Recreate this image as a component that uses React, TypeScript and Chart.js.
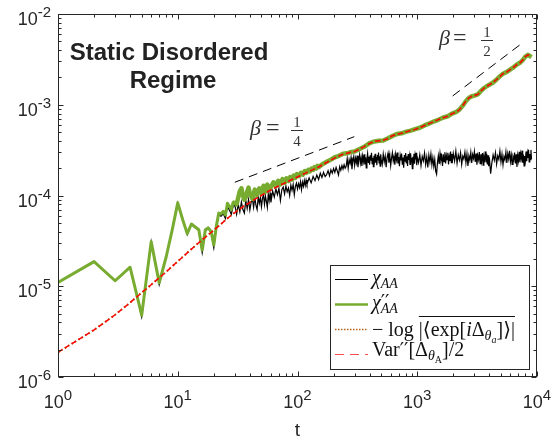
import React, { useEffect, useRef } from "react";
import { Chart, registerables } from "chart.js";

Chart.register(...registerables);

// ---------------- data ----------------
// chi''_AA and chi_AA at early integer times
const tEarly = [1, 2, 3, 4, 5, 6, 7, 8, 9, 10, 11, 12, 13, 14, 15, 16, 17, 18, 19, 20, 21, 22, 23, 24, 25, 26, 27, 28, 29, 30];
const chiPPEarly = [
  1.1e-5, 1.87e-5, 1.15e-5, 1.62e-5, 4.8e-6, 3.1e-5, 1.09e-5, 2.1e-5, 4.2e-5, 8.3e-5,
  5.4e-5, 3.8e-5, 4.85e-5, 4.5e-5, 4.2e-5, 2.5e-5, 4.2e-5, 4.4e-5, 4.0e-5, 2.85e-5,
  4.6e-5, 6.4e-5, 6.3e-5, 6.7e-5, 6.1e-5, 8.2e-5, 7.6e-5, 7.0e-5, 8.4e-5, 8.6e-5,
];
const chiEarly = [
  1.1e-5, 1.87e-5, 1.14e-5, 1.62e-5, 4.6e-6, 3.1e-5, 1.04e-5, 2.1e-5, 4.2e-5, 8.3e-5,
  5.4e-5, 3.7e-5, 4.8e-5, 4.4e-5, 4.1e-5, 2.35e-5, 4.1e-5, 4.3e-5, 3.9e-5, 2.65e-5,
  4.4e-5, 6.1e-5, 5.9e-5, 6.3e-5, 5.6e-5, 7.6e-5, 6.9e-5, 6.2e-5, 7.6e-5, 7.8e-5,
];

// chi''_AA at later times
const tChiPPLate = [
  31, 32, 33, 34, 35, 36, 37, 38, 39, 40,
  42, 44, 46, 48, 50, 52, 54, 56, 58, 60,
  63, 66, 69, 72, 75, 78, 81, 84, 87, 90,
  93, 96, 99, 103, 107, 111, 115, 119, 123, 127,
  131, 135, 139, 143, 147, 151, 160, 170, 180, 190,
  205, 220, 240, 260, 280, 300, 330, 360, 400, 440,
  480, 520, 570, 620, 680, 740, 800, 880, 960, 1050,
  1150, 1250, 1370, 1500, 1650, 1800, 1950, 2100, 2250, 2400,
  2550, 2700, 2850, 3000, 3200, 3400, 3600, 3800, 4000, 4300,
  4600, 4900, 5200, 5600, 6000, 6400, 6800, 7200, 7600, 8000,
  8400, 8700, 9000,
];
const chiPPLate = [
  8.0e-5, 9.5e-5, 1.12e-4, 1.2e-4, 1.0e-4, 9.0e-5, 9.6e-5, 1.1e-4, 1.22e-4, 1.05e-4,
  9.2e-5, 1.16e-4, 1.02e-4, 1.2e-4, 1.07e-4, 1.28e-4, 1.1e-4, 1.32e-4, 1.18e-4, 1.24e-4,
  1.4e-4, 1.27e-4, 1.45e-4, 1.33e-4, 1.52e-4, 1.38e-4, 1.55e-4, 1.44e-4, 1.6e-4, 1.5e-4,
  1.66e-4, 1.56e-4, 1.72e-4, 1.64e-4, 1.78e-4, 1.7e-4, 1.86e-4, 1.78e-4, 1.92e-4, 1.84e-4,
  1.98e-4, 1.92e-4, 2.06e-4, 1.98e-4, 2.12e-4, 2.06e-4, 2.2e-4, 2.3e-4, 2.4e-4, 2.48e-4,
  2.64e-4, 2.72e-4, 2.88e-4, 2.92e-4, 3.02e-4, 3.06e-4, 3.26e-4, 3.44e-4, 3.78e-4, 3.94e-4,
  4.02e-4, 4.04e-4, 4.27e-4, 4.53e-4, 4.77e-4, 4.84e-4, 5.02e-4, 5.18e-4, 5.38e-4, 5.58e-4,
  5.92e-4, 6.18e-4, 6.53e-4, 6.83e-4, 7.23e-4, 7.47e-4, 7.98e-4, 8.27e-4, 8.83e-4, 9.77e-4,
  1.1e-3, 1.19e-3, 1.24e-3, 1.26e-3, 1.3e-3, 1.42e-3, 1.52e-3, 1.6e-3, 1.66e-3, 1.76e-3,
  1.9e-3, 2.05e-3, 2.2e-3, 2.3e-3, 2.45e-3, 2.6e-3, 2.78e-3, 2.9e-3, 3.1e-3, 3.4e-3,
  3.55e-3, 3.45e-3, 3.35e-3,
];

// chi_AA at later times (saturating, noisy)
const tChiLate = [
  31, 32, 33, 34, 35, 36, 37, 38, 39, 40, 41, 42, 43, 44, 45, 46, 47, 48, 49, 50, 51, 52, 53, 54, 55, 56, 57, 58, 59, 60,
  62, 64, 66, 68, 70, 72, 74, 76, 78, 80, 82, 84, 86, 88, 90, 92, 94, 96, 98, 100, 102, 104, 106, 108, 110, 112, 114, 116, 118, 120,
  125, 130, 135, 140, 145, 150, 155, 160, 165, 170, 175, 180, 185, 190, 195, 200, 205, 210, 215, 220, 225, 230, 235, 240, 245, 250,
  255, 260, 265, 270, 275, 280, 285, 290, 295, 300, 305, 310, 315, 320, 325, 330, 335, 340, 345, 350,
  355, 360, 365, 370, 375, 380, 385, 390, 395, 400, 405, 410, 415, 420, 425, 430, 435, 440, 445, 450,
  455, 460, 465, 470, 475, 480, 485, 490, 495, 500,
  510, 520, 530, 540, 550, 560, 570, 580, 590, 600, 610, 620, 630, 640, 650, 660, 670, 680, 690, 700,
  710, 720, 730, 740, 750, 760, 770, 780, 790, 800, 810, 820, 830, 840, 850, 860, 870, 880, 890, 900,
  910, 920, 930, 940, 950, 960, 970, 980, 990, 1000,
  1025, 1050, 1075, 1100, 1125, 1150, 1175, 1200, 1225, 1250, 1275, 1300, 1325, 1350, 1375, 1400, 1425, 1450, 1475, 1500,
  1525, 1550, 1575, 1600, 1625, 1650, 1675, 1700, 1725, 1750, 1775, 1800, 1825, 1850, 1875, 1900, 1925, 1950, 1975, 2000,
  2050, 2100, 2150, 2200, 2250, 2300, 2350, 2400, 2450, 2500, 2550, 2600, 2650, 2700, 2750, 2800, 2850, 2900, 2950, 3000,
  3050, 3100, 3150, 3200, 3250, 3300, 3350, 3400, 3450, 3500, 3550, 3600, 3650, 3700, 3750, 3800, 3850, 3900, 3950, 4000,
  4100, 4200, 4300, 4400, 4500, 4600, 4700, 4800, 4900, 5000, 5100, 5200, 5300, 5400, 5500, 5600, 5700, 5800, 5900, 6000,
  6100, 6200, 6300, 6400, 6500, 6600, 6700, 6800, 6900, 7000, 7100, 7200, 7300, 7400, 7500, 7600, 7700, 7800, 7900, 8000,
  8100, 8200, 8300, 8400, 8500, 8600, 8700, 8800, 8900, 9000,
];
const chiLate = [
  0.62e-4, 0.80e-4, 0.66e-4, 0.85e-4, 0.70e-4, 0.64e-4, 0.88e-4, 0.72e-4, 0.90e-4, 0.69e-4, 0.84e-4, 0.92e-4, 0.74e-4, 0.95e-4, 0.78e-4,
  0.70e-4, 0.97e-4, 0.82e-4, 0.96e-4, 0.75e-4, 0.93e-4, 1.02e-4, 0.80e-4, 0.98e-4, 0.86e-4, 0.74e-4, 1.04e-4, 0.88e-4, 1.06e-4, 0.84e-4,
  1.12e-4, 0.96e-4, 1.18e-4, 1.02e-4, 1.20e-4, 0.88e-4, 1.16e-4, 1.24e-4, 1.04e-4, 1.27e-4, 1.10e-4, 1.21e-4, 1.00e-4, 1.30e-4, 1.14e-4,
  1.32e-4, 1.02e-4, 1.26e-4, 1.37e-4, 1.18e-4, 1.35e-4, 1.22e-4, 1.42e-4, 1.16e-4, 1.40e-4, 1.26e-4, 1.46e-4, 1.29e-4, 1.48e-4, 1.33e-4,
  1.56e-4, 1.38e-4, 1.62e-4, 1.46e-4, 1.68e-4, 1.50e-4, 1.76e-4, 1.58e-4, 1.80e-4, 1.62e-4, 1.70e-4, 1.88e-4, 1.65e-4,
  1.92e-4, 1.76e-4, 1.98e-4, 1.80e-4, 2.04e-4, 1.86e-4, 1.68e-4, 2.08e-4, 1.90e-4, 2.14e-4, 1.96e-4, 2.18e-4, 2.00e-4,
  2.10e-4, 2.55e-4, 2.00e-4, 2.48e-4, 2.25e-4, 2.62e-4, 1.95e-4, 2.40e-4, 2.70e-4, 2.15e-4,
  2.58e-4, 2.30e-4, 2.75e-4, 2.05e-4, 2.50e-4, 2.82e-4, 2.28e-4, 2.60e-4, 2.12e-4, 2.72e-4,
  2.38e-4, 2.85e-4, 2.20e-4, 2.64e-4, 2.02e-4, 2.55e-4, 2.90e-4, 2.32e-4, 2.68e-4, 2.18e-4,
  2.78e-4, 2.42e-4, 2.95e-4, 2.25e-4, 2.60e-4, 2.08e-4, 2.74e-4, 2.46e-4, 2.88e-4, 2.30e-4,
  2.66e-4, 2.16e-4, 2.80e-4, 2.44e-4, 2.98e-4, 2.28e-4, 2.70e-4, 2.10e-4, 2.84e-4, 2.50e-4,
  2.20e-4, 2.86e-4, 2.35e-4, 2.72e-4, 2.05e-4, 2.64e-4, 2.92e-4, 2.30e-4, 2.78e-4, 2.14e-4,
  2.58e-4, 2.96e-4, 2.40e-4, 2.70e-4, 2.18e-4, 2.84e-4, 2.48e-4, 2.98e-4, 2.26e-4, 2.66e-4,
  2.10e-4, 2.76e-4, 2.44e-4, 2.90e-4, 2.22e-4, 2.62e-4, 2.02e-4, 2.80e-4, 2.36e-4, 2.94e-4,
  2.28e-4, 2.70e-4, 2.12e-4, 2.86e-4, 2.46e-4, 2.74e-4, 2.20e-4, 2.92e-4, 2.34e-4, 2.60e-4,
  1.98e-4, 2.68e-4, 2.42e-4, 2.88e-4, 2.24e-4, 2.76e-4, 2.50e-4, 2.96e-4, 2.16e-4, 2.64e-4,
  2.30e-4, 2.82e-4, 2.14e-4, 2.70e-4, 2.40e-4, 2.94e-4, 2.20e-4, 2.66e-4, 2.04e-4, 2.78e-4,
  2.34e-4, 2.88e-4, 2.18e-4, 2.62e-4, 2.10e-4, 2.50e-4, 1.86e-4, 1.72e-4, 2.30e-4, 2.74e-4,
  2.22e-4, 2.90e-4, 2.44e-4, 2.70e-4, 2.12e-4, 2.84e-4, 2.36e-4, 3.00e-4, 2.26e-4, 2.76e-4,
  2.48e-4, 2.96e-4, 2.20e-4, 2.68e-4, 2.40e-4, 3.05e-4, 2.30e-4, 2.86e-4, 2.52e-4, 2.92e-4,
  2.40e-4, 3.08e-4, 2.26e-4, 2.80e-4, 2.46e-4, 2.96e-4, 2.20e-4, 2.72e-4, 2.52e-4, 3.00e-4,
  2.30e-4, 2.86e-4, 2.12e-4, 2.74e-4, 2.44e-4, 2.98e-4, 2.28e-4, 2.82e-4, 2.56e-4, 3.04e-4,
  2.34e-4, 2.90e-4, 2.18e-4, 2.76e-4, 2.48e-4, 3.02e-4, 2.24e-4, 2.84e-4, 2.40e-4, 2.94e-4,
  2.16e-4, 2.70e-4, 2.50e-4, 3.06e-4, 2.32e-4, 2.88e-4, 2.20e-4, 2.78e-4, 2.10e-4, 2.64e-4,
  1.74e-4, 2.30e-4, 2.80e-4, 2.44e-4, 2.96e-4, 2.22e-4, 2.74e-4, 2.50e-4, 3.08e-4, 2.34e-4,
  2.86e-4, 2.18e-4, 2.70e-4, 2.46e-4, 3.02e-4, 2.28e-4, 2.90e-4, 2.54e-4, 3.10e-4, 2.36e-4,
  2.78e-4, 2.20e-4, 2.68e-4, 2.48e-4, 2.98e-4, 2.26e-4, 2.84e-4, 2.06e-4, 2.76e-4, 2.42e-4,
  3.04e-4, 2.32e-4, 2.88e-4, 2.56e-4, 3.12e-4, 2.30e-4, 2.82e-4, 2.12e-4, 2.72e-4, 2.44e-4,
  3.06e-4, 2.38e-4, 2.92e-4, 2.60e-4, 3.20e-4, 2.34e-4, 2.86e-4, 2.48e-4, 3.18e-4, 2.52e-4,
];

// Var''[Delta]/2 and -log|<exp[i Delta]>| (coincide within line width)
const tVar = [
  1, 2, 3, 4, 5, 6, 7, 8, 9, 10,
  12, 14, 16, 18, 20, 23, 26, 30, 35, 40,
  46, 53, 60, 70, 80, 90, 100, 120, 150, 180,
  205, 220, 240, 260, 280, 300, 330, 360, 400, 440,
  480, 520, 570, 620, 680, 740, 800, 880, 960, 1050,
  1150, 1250, 1370, 1500, 1650, 1800, 1950, 2100, 2250, 2400,
  2550, 2700, 2850, 3000, 3200, 3400, 3600, 3800, 4000, 4300,
  4600, 4900, 5200, 5600, 6000, 6400, 6800, 7200, 7600, 8000,
  8400, 8700, 9000,
];
const varHalf = [
  1.87e-6, 3.3e-6, 4.85e-6, 6.6e-6, 8.5e-6, 1.04e-5, 1.24e-5, 1.44e-5, 1.66e-5, 1.88e-5,
  2.33e-5, 2.8e-5, 3.25e-5, 3.7e-5, 4.15e-5, 4.85e-5, 5.6e-5, 6.5e-5, 7.5e-5, 8.4e-5,
  9.4e-5, 1.05e-4, 1.15e-4, 1.28e-4, 1.39e-4, 1.5e-4, 1.6e-4, 1.8e-4, 2.06e-4, 2.36e-4,
  2.6e-4, 2.72e-4, 2.85e-4, 2.92e-4, 3.0e-4, 3.05e-4, 3.25e-4, 3.45e-4, 3.75e-4, 3.95e-4,
  4.0e-4, 4.05e-4, 4.25e-4, 4.55e-4, 4.75e-4, 4.85e-4, 5.0e-4, 5.2e-4, 5.35e-4, 5.6e-4,
  5.9e-4, 6.2e-4, 6.5e-4, 6.85e-4, 7.2e-4, 7.5e-4, 7.95e-4, 8.3e-4, 8.8e-4, 9.8e-4,
  1.1e-3, 1.19e-3, 1.24e-3, 1.26e-3, 1.3e-3, 1.42e-3, 1.52e-3, 1.6e-3, 1.66e-3, 1.76e-3,
  1.9e-3, 2.05e-3, 2.2e-3, 2.3e-3, 2.45e-3, 2.6e-3, 2.78e-3, 2.9e-3, 3.1e-3, 3.4e-3,
  3.55e-3, 3.45e-3, 3.35e-3,
];
const negLogCoherence = [
  1.87e-6, 3.3e-6, 4.85e-6, 6.6e-6, 8.5e-6, 1.04e-5, 1.24e-5, 1.44e-5, 1.66e-5, 1.88e-5,
  2.33e-5, 2.8e-5, 3.25e-5, 3.7e-5, 4.15e-5, 4.85e-5, 5.6e-5, 6.5e-5, 7.5e-5, 8.4e-5,
  9.4e-5, 1.05e-4, 1.15e-4, 1.28e-4, 1.39e-4, 1.5e-4, 1.6e-4, 1.8e-4, 2.06e-4, 2.36e-4,
  2.6e-4, 2.72e-4, 2.85e-4, 2.92e-4, 3.0e-4, 3.05e-4, 3.25e-4, 3.45e-4, 3.75e-4, 3.95e-4,
  4.0e-4, 4.05e-4, 4.25e-4, 4.55e-4, 4.75e-4, 4.85e-4, 5.0e-4, 5.2e-4, 5.35e-4, 5.6e-4,
  5.9e-4, 6.2e-4, 6.5e-4, 6.85e-4, 7.2e-4, 7.5e-4, 7.95e-4, 8.3e-4, 8.8e-4, 9.8e-4,
  1.1e-3, 1.19e-3, 1.24e-3, 1.26e-3, 1.3e-3, 1.42e-3, 1.52e-3, 1.6e-3, 1.66e-3, 1.76e-3,
  1.9e-3, 2.05e-3, 2.2e-3, 2.3e-3, 2.45e-3, 2.6e-3, 2.78e-3, 2.9e-3, 3.1e-3, 3.4e-3,
  3.55e-3, 3.45e-3, 3.35e-3,
];

// power-law guide lines
const guideQuarterT = [30, 298];
const guideQuarterV = [1.4e-4, 4.45e-4];
const guideHalfT = [1976, 7790];
const guideHalfV = [1.25e-3, 4.95e-3];

// axes
const xTickValues = [1, 10, 100, 1000, 10000];
const xTickExps = ["0", "1", "2", "3", "4"];
const yTickValues = [1e-6, 1e-5, 1e-4, 1e-3, 1e-2];
const yTickExps = ["-6", "-5", "-4", "-3", "-2"];
const xAxisTitle = "t";
const titleLines = ["Static Disordered", "Regime"];

// ---------------- style ----------------
const SANS = "'Liberation Sans', Arial, Helvetica, sans-serif";
const SERIF = "'Liberation Serif', 'Times New Roman', 'DejaVu Serif', serif";
const PRIME_FONT = "'DejaVu Serif', serif";
const AXIS = "#262626";
const GREEN = "#77AC30";
const ORANGE = "#B8621B";
const RED = "#FF0000";

type Run = { s: string; size: number; italic?: boolean; dy?: number; noAdvance?: boolean; ovStart?: boolean; ovEnd?: boolean; family?: string };

const legendRows: { sample: string; runs: Run[]; baseline: number; y: number }[] = [
  {
    sample: "chi", y: 279.5, baseline: 284,
    runs: [{ s: "χ", size: 20, italic: true }, { s: "AA", size: 14, italic: true, dy: 4 }],
  },
  {
    sample: "chipp", y: 304.5, baseline: 309,
    runs: [
      { s: "χ", size: 20, italic: true },
      { s: "′′", size: 19, dy: -1, noAdvance: true, family: PRIME_FONT },
      { s: "AA", size: 14, italic: true, dy: 4 },
    ],
  },
  {
    sample: "neglog", y: 329.5, baseline: 336,
    runs: [
      { s: "− log ", size: 20 },
      { s: "|⟨exp[", size: 20, ovStart: true },
      { s: "i", size: 20, italic: true },
      { s: "Δ", size: 20 },
      { s: "θ", size: 14, italic: true, dy: 4 },
      { s: "a", size: 10, italic: true, dy: 7 },
      { s: "]⟩|", size: 20, ovEnd: true },
    ],
  },
  {
    sample: "var", y: 354.5, baseline: 356,
    runs: [
      { s: "Var", size: 20 },
      { s: "′′", size: 19, dy: 0, family: PRIME_FONT },
      { s: "[Δ", size: 20 },
      { s: "θ", size: 14, italic: true, dy: 4 },
      { s: "A", size: 10, dy: 7 },
      { s: "]/2", size: 20 },
    ],
  },
];

function drawRuns(ctx: CanvasRenderingContext2D, runs: Run[], x: number, y: number) {
  let cx = x;
  let ov0 = -1;
  let ov1 = -1;
  for (const r of runs) {
    ctx.font = `${r.italic ? "italic " : ""}${r.size}px ${r.family || SERIF}`;
    if (r.ovStart) ov0 = cx;
    ctx.fillText(r.s, cx, y + (r.dy || 0));
    const w = ctx.measureText(r.s).width;
    if (!r.noAdvance) cx += w;
    if (r.ovEnd) ov1 = cx;
  }
  return [ov0, ov1];
}

function line(ctx: CanvasRenderingContext2D, x1: number, y1: number, x2: number, y2: number) {
  ctx.beginPath();
  ctx.moveTo(x1, y1);
  ctx.lineTo(x2, y2);
  ctx.stroke();
}

const decorPlugin = {
  id: "decor",
  afterDraw(chart: any) {
    const ctx: CanvasRenderingContext2D = chart.ctx;
    const a = chart.chartArea;
    const xs = chart.scales.x;
    const ys = chart.scales.y;
    ctx.save();
    const L = Math.round(a.left) + 0.5;
    const R = Math.round(a.right) - 0.5;
    const T = Math.round(a.top) + 0.5;
    const B = Math.round(a.bottom) - 0.5;

    // ticks (inward, all four sides)
    ctx.strokeStyle = AXIS;
    ctx.lineWidth = 1;
    const xMin = Math.round(Math.log10(xs.min));
    const xMax = Math.round(Math.log10(xs.max));
    for (let d = xMin; d <= xMax; d++) {
      for (let m = 1; m <= 9; m++) {
        const v = m * Math.pow(10, d);
        if (v > xs.max * 1.0001) break;
        const px = Math.round(xs.getPixelForValue(v)) + 0.5;
        const len = m === 1 ? 5 : 3;
        line(ctx, px, B, px, B - len);
        line(ctx, px, T, px, T + len);
      }
    }
    const yMin = Math.round(Math.log10(ys.min));
    const yMax = Math.round(Math.log10(ys.max));
    for (let d = yMin; d <= yMax; d++) {
      for (let m = 1; m <= 9; m++) {
        const v = m * Math.pow(10, d);
        if (v > ys.max * 1.0001) break;
        const py = Math.round(ys.getPixelForValue(v)) + 0.5;
        const len = m === 1 ? 5 : 3;
        line(ctx, L, py, L + len, py);
        line(ctx, R, py, R - len, py);
      }
    }
    ctx.strokeRect(L, T, R - L, B - T);

    // tick labels
    ctx.fillStyle = AXIS;
    ctx.textBaseline = "alphabetic";
    ctx.textAlign = "left";
    xTickValues.forEach((v, i) => {
      const px = xs.getPixelForValue(v);
      ctx.font = `18px ${SANS}`;
      const w10 = ctx.measureText("10").width;
      ctx.font = `15px ${SANS}`;
      const we = ctx.measureText(xTickExps[i]).width;
      const x0 = px - (w10 + we) / 2;
      ctx.font = `18px ${SANS}`;
      ctx.fillText("10", x0, 408);
      ctx.font = `15px ${SANS}`;
      ctx.fillText(xTickExps[i], x0 + w10, 400);
    });
    yTickValues.forEach((v, i) => {
      const py = ys.getPixelForValue(v);
      ctx.font = `15px ${SANS}`;
      const we = ctx.measureText(yTickExps[i]).width;
      ctx.font = `18px ${SANS}`;
      const w10 = ctx.measureText("10").width;
      const x0 = 51 - we - w10;
      ctx.fillText("10", x0, py + 11);
      ctx.font = `15px ${SANS}`;
      ctx.fillText(yTickExps[i], x0 + w10, py + 3);
    });

    // axis title
    ctx.font = `19px ${SANS}`;
    ctx.textAlign = "center";
    ctx.fillText(xAxisTitle, (a.left + a.right) / 2, 436);

    // regime title
    ctx.fillStyle = "#222222";
    ctx.font = `bold 24px ${SANS}`;
    ctx.fillText(titleLines[0], 169, 60);
    ctx.fillText(titleLines[1], 173, 88);

    // slope annotations
    const drawBeta = (bx: number, by: number, eqx: number, fx: number, num: string, den: string) => {
      ctx.fillStyle = "#333333";
      ctx.textAlign = "left";
      ctx.font = `italic 22px ${SERIF}`;
      ctx.fillText("β", bx, by);
      ctx.font = `24px ${SERIF}`;
      ctx.fillText("=", eqx, by);
      ctx.textAlign = "center";
      ctx.font = `15px ${SERIF}`;
      ctx.fillText(num, fx, by - 8);
      ctx.fillText(den, fx, by + 11);
      ctx.strokeStyle = "#333333";
      ctx.lineWidth = 1;
      line(ctx, fx - 6, by - 4.5, fx + 6, by - 4.5);
    };
    drawBeta(250, 135, 266, 297, "1", "4");
    drawBeta(439, 45, 453, 487, "1", "2");

    // legend
    const lx0 = 330.5, ly0 = 265.5, lw = 199, lh = 104;
    ctx.fillStyle = "#ffffff";
    ctx.fillRect(lx0, ly0, lw, lh);
    ctx.strokeStyle = AXIS;
    ctx.lineWidth = 1;
    ctx.setLineDash([]);
    ctx.strokeRect(lx0, ly0, lw, lh);
    legendRows.forEach((row) => {
      ctx.save();
      if (row.sample === "chi") {
        ctx.strokeStyle = "#000000"; ctx.lineWidth = 1;
      } else if (row.sample === "chipp") {
        ctx.strokeStyle = GREEN; ctx.lineWidth = 2.5;
      } else if (row.sample === "neglog") {
        ctx.strokeStyle = ORANGE; ctx.lineWidth = 1.5; ctx.setLineDash([1.5, 1.5]);
      } else {
        ctx.strokeStyle = "#FF4D4D"; ctx.lineWidth = 1.2; ctx.setLineDash([9, 6]);
      }
      line(ctx, 335, row.y, 368, row.y);
      ctx.restore();
      ctx.fillStyle = "#111111";
      ctx.textAlign = "left";
      const [o0, o1] = drawRuns(ctx, row.runs, 372, row.baseline);
      if (o0 >= 0 && o1 >= 0) {
        ctx.strokeStyle = "#111111";
        ctx.lineWidth = 1;
        line(ctx, o0, row.baseline - 19.5, o1, row.baseline - 19.5);
      }
    });
    ctx.restore();
  },
};

function pts(ts: number[], vs: number[]) {
  return ts.map((t, i) => ({ x: t, y: vs[i] }));
}

export default function App() {
  const ref = useRef<HTMLCanvasElement | null>(null);
  useEffect(() => {
    if (!ref.current) return;
    const common = { pointRadius: 0, pointHoverRadius: 0, tension: 0, fill: false };
    const lastEarly = tEarly.length - 1;
    const chart = new Chart(ref.current, {
      type: "line",
      data: {
        datasets: [
          { ...common, label: "Var''/2", data: pts(tVar, varHalf), borderColor: RED, borderWidth: 1.5, borderDash: [5, 3], order: 1 },
          { ...common, label: "-log", data: pts(tVar, negLogCoherence), borderColor: ORANGE, borderWidth: 2, borderDash: [1.5, 2.5], order: 2 },
          { ...common, label: "chi'' early", data: pts(tEarly, chiPPEarly), borderColor: GREEN, borderWidth: 3, borderJoinStyle: "round", order: 3 },
          {
            ...common, label: "chi'' late",
            data: pts([tEarly[lastEarly]].concat(tChiPPLate), [chiPPEarly[lastEarly]].concat(chiPPLate)),
            borderColor: GREEN, borderWidth: 4.5, borderJoinStyle: "round", order: 3,
          },
          { ...common, label: "chi", data: pts(tEarly.concat(tChiLate), chiEarly.concat(chiLate)), borderColor: "#000000", borderWidth: 1.2, order: 4 },
          { ...common, label: "beta14", data: pts(guideQuarterT, guideQuarterV), borderColor: "#000000", borderWidth: 1, borderDash: [9, 6], order: 5 },
          { ...common, label: "beta12", data: pts(guideHalfT, guideHalfV), borderColor: "#000000", borderWidth: 1, borderDash: [9, 6], order: 5 },
        ] as any,
      },
      options: {
        responsive: false,
        animation: false,
        devicePixelRatio: 1,
        events: [],
        layout: { padding: { left: 58, right: 14, top: 14, bottom: 63 } },
        plugins: { legend: { display: false }, tooltip: { enabled: false } },
        scales: {
          x: { type: "logarithmic", min: 1, max: 10000, display: false },
          y: { type: "logarithmic", min: 1e-6, max: 1e-2, display: false },
        },
      } as any,
      plugins: [decorPlugin as any],
    });
    return () => chart.destroy();
  }, []);
  return (
    <div style={{ position: "fixed", left: 0, top: 0, width: 551, height: 440, background: "#ffffff" }}>
      <canvas ref={ref} width={551} height={440} style={{ display: "block" }} />
    </div>
  );
}
